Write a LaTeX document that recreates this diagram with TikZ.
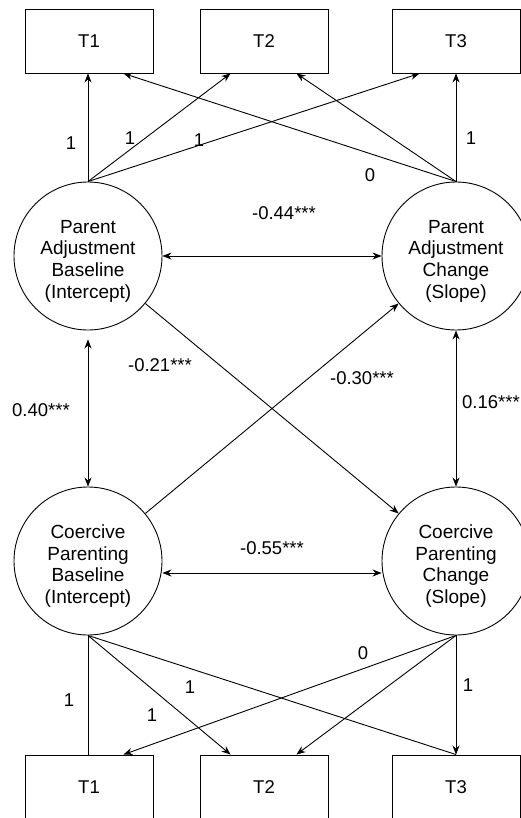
\documentclass[tikz,border=0pt]{standalone}
\usepackage{fontspec}
\setmainfont{Liberation Sans}
\usetikzlibrary{arrows.meta,calc}
\begin{document}
\begin{tikzpicture}[x=1pt,y=-1pt,
  every node/.style={font=\fontsize{18.5}{21.7}\selectfont},
  obs/.style={draw, line width=0.9pt, minimum width=128pt, minimum height=64pt, inner sep=0pt},
  lat/.style={draw, circle, line width=0.9pt, minimum size=148pt, inner sep=0pt},
  lattext/.style={inner sep=0pt, align=center, yshift=-5pt, font=\fontsize{19}{21.7}\selectfont},
  lbl/.style={inner sep=0pt},
  path/.style={line width=0.9pt, -{Stealth[length=9pt,width=7pt]}},
  twoway/.style={line width=0.9pt, {Stealth[length=9pt,width=7pt]}-{Stealth[length=9pt,width=7pt]}},
  plain/.style={line width=0.9pt}]
\useasboundingbox (0,0) rectangle (521,818);
\clip (0,0) rectangle (521,818);
% observed boxes
\node[obs] (tT1) at (89,41) {T1};
\node[obs] (tT2) at (264,41) {T2};
\node[obs] (tT3) at (456,41) {T3};
\node[obs] (bT1) at (89,787) {T1};
\node[obs] (bT2) at (264,787) {T2};
\node[obs] (bT3) at (456,787) {T3};
% latent circles
\node[lat, label={[lattext]center:Parent\\Adjustment\\Baseline\\(Intercept)}] (PB) at (88,256) {};
\node[lat, label={[lattext]center:Parent\\Adjustment\\Change\\(Slope)}] (PS) at (456,256) {};
\node[lat, label={[lattext]center:Coercive\\Parenting\\Baseline\\(Intercept)}] (CB) at (88,561) {};
\node[lat, label={[lattext]center:Coercive\\Parenting\\Change\\(Slope)}] (CS) at (456,561) {};
% top loadings
\draw[path] (PB.north) -- (PB.north |- tT1.south);
\draw[path] (PB.north) -- ([xshift=31pt]tT2.south west);
\draw[path] (PB.north) -- ([xshift=28pt]tT3.south west);
\draw[path] (PS.north) -- ([xshift=-30pt]tT1.south east);
\draw[path] (PS.north) -- ([xshift=-32pt]tT2.south east);
\draw[path] (PS.north) -- (PS.north |- tT3.south);
% bottom loadings
\draw[plain] (CB.south) -- (CB.south |- bT1.north);
\draw[path] (CB.south) -- ([xshift=31pt]bT2.north west);
\draw[plain] (CB.south) -- (CS.south |- bT3.north);
\draw[path] (CS.south) -- ([xshift=-30pt]bT1.north east);
\draw[path] (CS.south) -- ([xshift=-32pt]bT2.north east);
\draw[path] (CS.south) -- (CS.south |- bT3.north);
% structural
\draw[twoway] (PB) -- (PS);
\draw[twoway] ([yshift=-12pt]CB.east) -- ([yshift=-12pt]CS.west);
\draw[twoway, shorten <=9pt] (PB) -- (CB);
\draw[twoway] (PS) -- (CS);
\draw[path] (PB) -- (CS);
\draw[path] (CB) -- (PS);
% labels
\node[lbl] (l1) at (71,143) {1};
\node[lbl] (l2) at (130,138) {1};
\node[lbl] (l3) at (199,140) {1};
\node[lbl] (l4) at (370,175) {0};
\node[lbl] (l5) at (471,138) {1};
\node[lbl] (l6) at (284,213) {-0.44***};
\node[lbl] (l7) at (160,365) {-0.21***};
\node[lbl] (l8) at (362,378) {-0.30***};
\node[lbl] (l9) at (41,410) {0.40***};
\node[lbl,anchor=west] (l10) at (462,402) {0.16***};
\node[lbl] (l11) at (272,548) {-0.55***};
\node[lbl] (l12) at (363,653) {0};
\node[lbl] (l13) at (190,687) {1};
\node[lbl] (l14) at (152,715) {1};
\node[lbl] (l15) at (69,700) {1};
\node[lbl] (l16) at (468,685) {1};
\end{tikzpicture}
\end{document}
